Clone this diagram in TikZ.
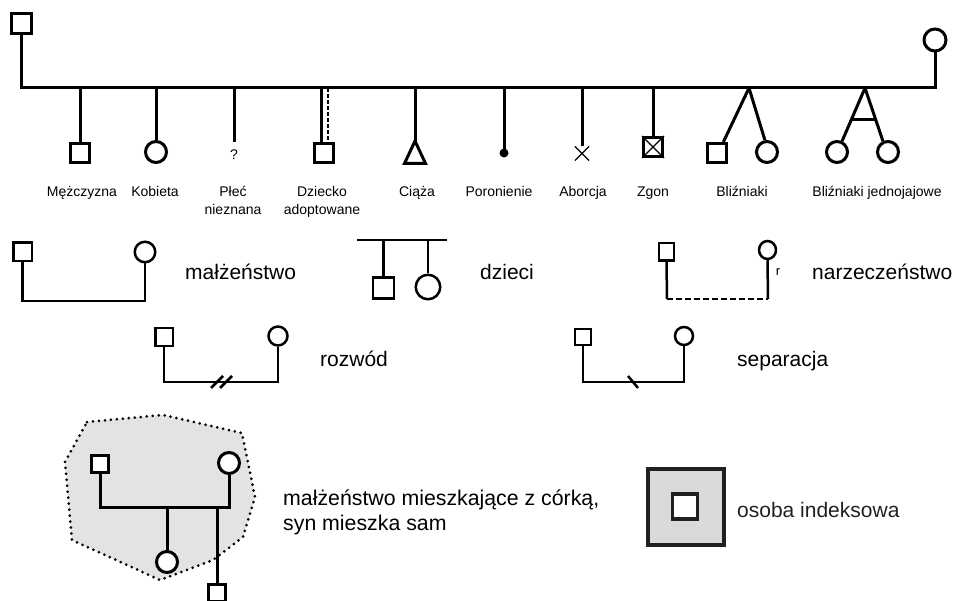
\documentclass[tikz,border=0pt]{standalone}
\usepackage{fontspec}
\setmainfont{Liberation Sans}
\usetikzlibrary{calc,shapes.misc,shapes.geometric}
\definecolor{idx}{HTML}{231F20}
\definecolor{idxfill}{HTML}{D9DADB}
\definecolor{hhgray}{HTML}{E3E3E3}
\begin{document}
\begin{tikzpicture}[x=1pt,y=-1pt,line join=miter,
  msq/.style={draw, rectangle, inner sep=0pt, minimum size=#1, fill=white},
  msq/.default=19,
  fci/.style={draw, circle, inner sep=0pt, minimum size=#1, fill=white},
  fci/.default=21,
  toplab/.style={font=\fontsize{14}{18}\selectfont, align=center, anchor=base, inner sep=0pt},
  lab/.style={font=\fontsize{21}{25}\selectfont, anchor=base west, inner sep=0pt},
  thk/.style={line width=3pt},
  med/.style={line width=2.5pt},
  thn/.style={line width=1.2pt},
]
\useasboundingbox (0,0) rectangle (955,601);

% ---------- top: legend of symbols ----------
\node[msq=20, thk] (P1) at (21.5,24) {};
\node[fci=22, thk] (P2) at (935,40) {};
\coordinate (sib) at (478,88);
\draw[thk] (P1.south) |- (sib) -| (P2.south);

\node[msq, thk] (c1) at (80,153) {};
\draw[thk] (c1.north |- sib) -- (c1.north);
\node[fci, thk] (c2) at (156,152) {};
\draw[thk] (c2.north |- sib) -- (c2.north);
\coordinate (c3) at (234,142);
\draw[thk] (c3 |- sib) -- (c3);
\node[font=\fontsize{14}{17}\selectfont, inner sep=0pt, anchor=base] (q) at (234,160) {?};

\node[msq, thk] (c4) at (324,153) {};
\coordinate (c4a) at (321,142);
\coordinate (c4b) at (328,142);
\draw[thk] (c4a |- sib) -- (c4a);
\draw[med, dash pattern=on 4pt off 2pt] (c4b |- sib) -- (c4b);

\coordinate (c5) at (415,141);
\draw[thk] (c5 |- sib) -- (c5);
\draw[thk] (c5) -- ++(-10.5,22.5) -- ++(21,0) -- cycle;

\node[circle, fill, inner sep=0pt, minimum size=9] (c6) at (504,153) {};
\draw[thk] (c6 |- sib) -- (c6.center);

\node[cross out, draw, thn, inner sep=0pt, minimum size=13] (c7) at (582,153.5) {};
\draw[thk] (c7.north |- sib) -- (c7.north);

\node[msq, thk] (c8) at (653,147) {};
\draw[thn] (c8.north west) -- (c8.south east) (c8.north east) -- (c8.south west);
\draw[thk] (c8.north |- sib) -- (c8.north);

\coordinate (t1) at (749,88);
\node[msq, thk] (c9) at (717,153) {};
\node[fci, thk] (c10) at (767,152) {};
\draw[thk] (t1) -- (c9.60);
\draw[thk] (t1) -- (c10.100);

\coordinate (t2) at (865,88);
\node[fci, thk] (c11) at (837,152) {};
\node[fci, thk] (c12) at (888,152) {};
\draw[thk] (t2) -- (c11.65);
\draw[thk] (t2) -- (c12.115);
\draw[thk] ($(t2)!0.6!(c11.65)$) -- ($(t2)!0.6!(c12.115)$);

\node[toplab] (l1) at (82,197) {Mężczyzna};
\node[toplab] (l2) at (155,197) {Kobieta};
\node[toplab] (l3) at (233,215) {Płeć\\nieznana};
\node[toplab] (l4) at (322,215) {Dziecko\\adoptowane};
\node[toplab] (l5) at (417,197) {Ciąża};
\node[toplab] (l6) at (499,197) {Poronienie};
\node[toplab] (l7) at (583,197) {Aborcja};
\node[toplab] (l8) at (653,197) {Zgon};
\node[toplab] (l9) at (742,197) {Bliźniaki};
\node[toplab] (l10) at (877,197) {Bliźniaki jednojajowe};

% ---------- relationships ----------
\node[msq=18.5, med] (a1) at (22.5,252) {};
\node[fci=20.5, med] (a2) at (145,252) {};
\coordinate (a3) at (84,301);
\draw[med] (a1.south) |- (a3) -| (a2.south);
\node[lab] (a4) at (185,280) {małżeństwo};

\coordinate (dl) at (357,240);
\coordinate (dr) at (447,240);
\draw[med] (dl) -- (dr);
\node[msq=21, med] (d1) at (383.5,288) {};
\node[fci=24.5, med] (d2) at (428,287) {};
\draw[med] (d1.north |- dl) -- (d1.north);
\draw[med] (d2.north |- dl) -- (d2.north);
\node[lab] (d3) at (480,280) {dzieci};

\node[draw, rectangle, med, inner sep=0pt, minimum width=15, minimum height=17.5, fill=white] (n1) at (666.5,252) {};
\node[draw, ellipse, med, inner sep=0pt, minimum width=17, minimum height=18, fill=white] (n2) at (767.5,250) {};
\coordinate (n3) at (667,299);
\coordinate (n4) at (768,299);
\draw[med] (n1.south) -- (n3);
\draw[med, dash pattern=on 6pt off 3pt] (n3) -- (n4);
\draw[med] (n4) -- (n2.south);
\node[font=\fontsize{13}{15}\selectfont, inner sep=0pt, anchor=base] (n5) at (778,276) {r};
\node[lab] (n6) at (812,280) {narzeczeństwo};

\node[msq=17.5, med] (r1) at (164,337) {};
\node[fci=19, med] (r2) at (278,336) {};
\coordinate (r3) at (220,382);
\draw[med] (r1.south) |- (r3) -| (r2.south);
\coordinate (r4) at (217,382);
\coordinate (r5) at (226,382);
\draw[med] ($(r4)+(-6,6)$) -- ($(r4)+(6,-6)$);
\draw[med] ($(r5)+(-6,6)$) -- ($(r5)+(6,-6)$);
\node[lab] (r6) at (320,366) {rozwód};

\node[msq=16, med] (s1) at (583,337) {};
\node[fci=18, med] (s2) at (684,336) {};
\coordinate (s3) at (633,382);
\draw[med] (s1.south) |- (s3) -| (s2.south);
\draw[med] ($(s3)+(-5,-6)$) -- ($(s3)+(5,6)$);
\node[lab] (s4) at (737,366) {separacja};

% ---------- household ----------
\draw[line width=3pt, line cap=round, dash pattern=on 0pt off 6pt, fill=hhgray]
  (87,422) -- (163,415) -- (242,433) -- (255,497) -- (243,537) -- (213,560)
  -- (160,580) -- (72,540) -- (65,462) -- cycle;
\node[msq=17.5, thk] (h1) at (100,464) {};
\node[fci=21, thk] (h2) at (229,463) {};
\coordinate (h3) at (167,507);
\draw[thk] (h1.south) |- (h3) -| (h2.south);
\node[fci=21, thk] (h4) at (167,562) {};
\draw[thk] (h3) -- (h4.north);
\node[msq=17.5, thk] (h5) at (217,593) {};
\draw[thk] (h5.north |- h3) -- (h5.north);
\node[lab, align=left, font=\fontsize{21.3}{25}\selectfont] (h6) at (283,530)
  {małżeństwo mieszkające z córką,\\syn mieszka sam};

% ---------- index person ----------
\node[draw=idx, line width=4pt, fill=idxfill, inner sep=0pt, minimum size=76] (i1) at (686,507) {};
\node[draw=idx, line width=3.3pt, fill=white, inner sep=0pt, minimum size=25] (i2) at (685,506.5) {};
\node[lab, text=idx] (i3) at (737,517) {osoba indeksowa};
\end{tikzpicture}
\end{document}
